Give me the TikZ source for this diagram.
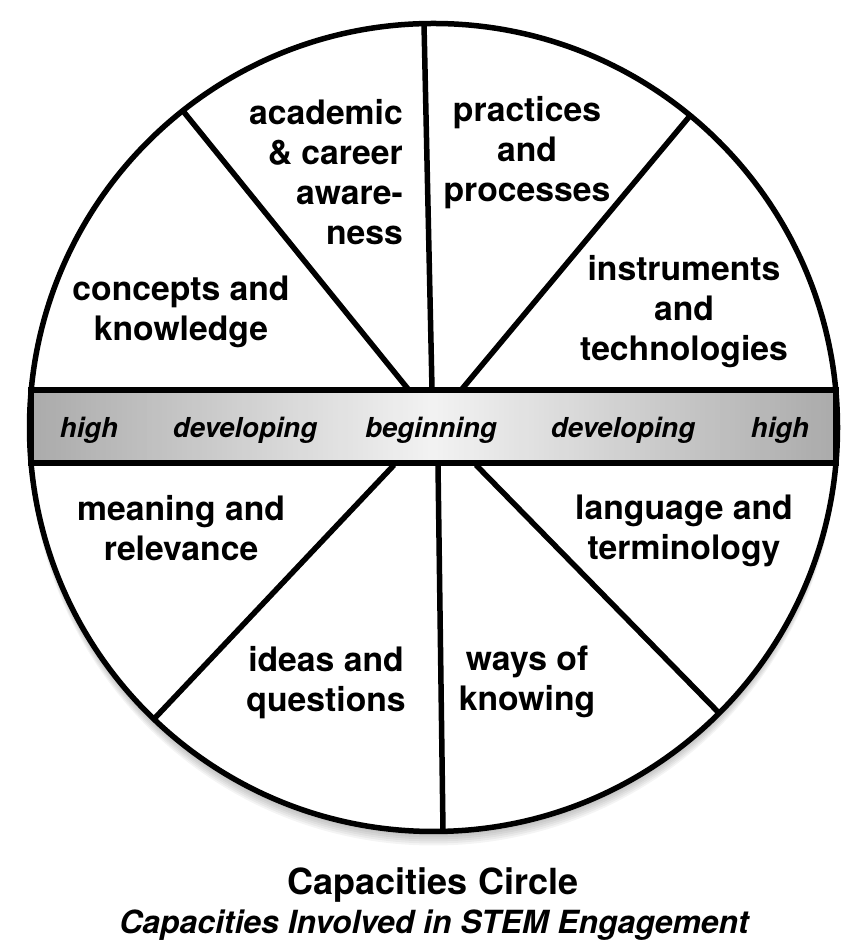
\documentclass[tikz,border=0pt]{standalone}
\usepackage{fontspec}
\setmainfont{TeX Gyre Heros}

\tikzset{
  rim/.style={line width=5.5pt},
  spoke/.style={line width=5.5pt},
  sector/.style={font=\bfseries\fontsize{33.7}{40}\selectfont, inner sep=0pt, align=center, anchor=north},
  level/.style={font=\bfseries\itshape\fontsize{27.5}{30}\selectfont, inner sep=0pt, anchor=base},
}

\begin{document}
\begin{tikzpicture}[x=1pt,y=1pt]
  \useasboundingbox (0,0) rectangle (858,941);

  % Soft shadow under the disc, then the disc
  \foreach \s in {2,4,...,14}
    \fill[black, opacity=0.045] (433.5,{513.5-\s}) circle (404);
  \coordinate (c) at (433.5,513.5);
  \fill[white] (c) circle (404);

  % Spoke ends
  \coordinate (ulIn) at (408,552);  \coordinate (ulOut) at (183,830);
  \coordinate (uvIn) at (432,552);  \coordinate (uvOut) at (424,917);
  \coordinate (urIn) at (462,552);  \coordinate (urOut) at (689,824);
  \coordinate (llIn) at (394,476);  \coordinate (llOut) at (154,222);
  \coordinate (lvIn) at (438,476);  \coordinate (lvOut) at (443,110);
  \coordinate (lrIn) at (476,476);  \coordinate (lrOut) at (719,228);

  \draw[spoke] (ulIn) -- (ulOut);
  \draw[spoke] (uvIn) -- (uvOut);
  \draw[spoke] (urIn) -- (urOut);
  \draw[spoke] (llIn) -- (llOut);
  \draw[spoke] (lvIn) -- (lvOut);
  \draw[spoke] (lrIn) -- (lrOut);

  % Level band across the middle: grey at the ends, light in the centre
  \foreach \i in {0,...,159} {
    \pgfmathsetmacro{\shadeval}{5+28*abs(\i-79.5)/79.5}
    \fill[black!\shadeval] ({31+\i*5.03},478) rectangle ({31+(\i+1)*5.03+0.4},551);
  }
  \node[rim, draw, minimum width=805pt, minimum height=73pt, inner sep=0pt] (band) at (433.5,514.5) {};

  % Rim on top
  \draw[rim] (c) circle (404);

  % Upper sectors
  \node[sector, anchor=north east, align=right] (career) at (403,842) {academic\\\& career\\aware-\\ness};
  \node[sector] (practices) at (527,845) {practices\\and\\processes};
  \node[sector] (instruments) at (684,686) {instruments\\and\\technologies};
  \node[sector] (concepts) at (181,665) {concepts and\\knowledge};

  % Lower sectors
  \node[sector] (meaning) at (181,446) {meaning and\\relevance};
  \node[sector] (language) at (684,446) {language and\\terminology};
  \node[sector] (ideas) at (326,295) {ideas and\\questions};
  \node[sector] (knowing) at (527,295) {ways of\\knowing};

  % Levels
  \node[level] (highL) at (89,503) {high};
  \node[level] (devL) at (245,503) {developing};
  \node[level] (begin) at (431,503) {beginning};
  \node[level] (devR) at (623,503) {developing};
  \node[level] (highR) at (780,503) {high};

  % Caption
  \node[font=\bfseries\fontsize{36}{40}\selectfont, inner sep=0pt, anchor=base] (title) at (433,46) {Capacities Circle};
  \node[font=\bfseries\itshape\fontsize{31.9}{36}\selectfont, inner sep=0pt, anchor=base] (subtitle) at (434,8) {Capacities Involved in STEM Engagement};
\end{tikzpicture}
\end{document}
